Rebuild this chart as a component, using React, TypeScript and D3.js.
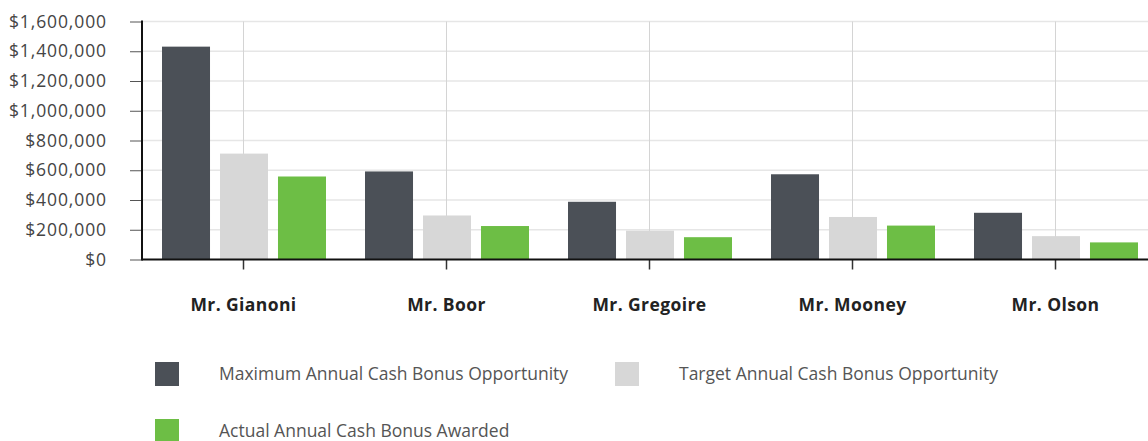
import { useEffect, useRef } from 'react';
import * as d3 from 'd3';

const executives = ['Mr. Gianoni', 'Mr. Boor', 'Mr. Gregoire', 'Mr. Mooney', 'Mr. Olson'];
const seriesNames = [
  'Maximum Annual Cash Bonus Opportunity',
  'Target Annual Cash Bonus Opportunity',
  'Actual Annual Cash Bonus Awarded',
];
const maxBonus = [1431000, 592000, 388000, 573000, 314000];
const targetBonus = [712000, 296000, 194000, 286000, 157000];
const actualBonus = [558000, 225000, 150000, 228000, 115000];
const seriesColors = ['#4b5057', '#d7d7d7', '#6dbe45'];
const yTicks = [0, 200000, 400000, 600000, 800000, 1000000, 1200000, 1400000, 1600000];

const W = 1148;
const H = 441;
const FONT = '"Open Sans", "Noto Sans", sans-serif';

const App = () => {
  const svgRef = useRef<SVGSVGElement>(null);

  useEffect(() => {
    const svg = d3.select(svgRef.current);
    svg.selectAll('*').remove();

    const values = [maxBonus, targetBonus, actualBonus];
    const left = 142;
    const step = 203;

    const x = d3.scaleBand<string>()
      .domain(executives)
      .range([left, left + step * executives.length]);
    const xs = d3.scaleBand<string>()
      .domain(seriesNames)
      .range([20, 184])
      .paddingInner(0.172);
    const y = d3.scaleLinear().domain([0, 1600000]).range([259.5, 21.5]);

    const g = svg.append('g');

    // horizontal grid
    g.selectAll('.hgrid')
      .data(yTicks.slice(1))
      .enter()
      .append('line')
      .attr('x1', left)
      .attr('x2', W)
      .attr('y1', d => y(d))
      .attr('y2', d => y(d))
      .attr('stroke', '#e6e6e6')
      .attr('stroke-width', 1.5);

    // vertical grid at category centres
    g.selectAll('.vgrid')
      .data(executives)
      .enter()
      .append('line')
      .attr('x1', d => x(d)! + step / 2)
      .attr('x2', d => x(d)! + step / 2)
      .attr('y1', y(1600000))
      .attr('y2', y(0))
      .attr('stroke', '#d4d4d4')
      .attr('stroke-width', 1);

    // bars
    const groups = g.selectAll('.grp')
      .data(executives)
      .enter()
      .append('g')
      .attr('transform', d => `translate(${x(d)}, 0)`);

    groups.selectAll('rect')
      .data((d, i) => seriesNames.map((s, k) => ({ s, k, v: values[k][i] })))
      .enter()
      .append('rect')
      .attr('x', d => xs(d.s)!)
      .attr('width', xs.bandwidth())
      .attr('y', d => y(d.v))
      .attr('height', d => y(0) - y(d.v))
      .attr('fill', d => seriesColors[d.k]);

    // y axis
    const yAxis = d3.axisLeft(y)
      .tickValues(yTicks)
      .tickSize(12)
      .tickPadding(23)
      .tickFormat(d => '$' + d3.format(',')(d as number));
    const ya = svg.append('g')
      .attr('transform', `translate(${left}, 0)`)
      .call(yAxis);
    ya.select('.domain').remove();
    ya.selectAll('.tick line').attr('stroke', '#555').attr('stroke-width', 1);
    ya.selectAll('.tick text')
      .attr('font-family', FONT)
      .attr('font-size', 17.5)
      .attr('letter-spacing', 0.9)
      .attr('fill', '#444');

    // x axis
    const xa = svg.append('g')
      .attr('transform', `translate(0, ${y(0)})`)
      .call(d3.axisBottom(x).tickSize(10).tickPadding(29));
    xa.select('.domain').remove();
    xa.selectAll('.tick line').attr('stroke', '#333').attr('stroke-width', 1.5);
    xa.selectAll('.tick text')
      .attr('font-family', FONT)
      .attr('font-size', 17.5)
      .attr('letter-spacing', 0.4)
      .attr('font-weight', 700)
      .attr('fill', '#222');

    // axis lines
    svg.append('line')
      .attr('x1', left).attr('x2', W)
      .attr('y1', y(0)).attr('y2', y(0))
      .attr('stroke', '#111').attr('stroke-width', 2);
    svg.append('line')
      .attr('x1', left).attr('x2', left)
      .attr('y1', y(1600000) - 1).attr('y2', y(0) + 1)
      .attr('stroke', '#111').attr('stroke-width', 2);

    // legend
    const legendPos = [
      { x: 155, y: 362 },
      { x: 615, y: 362 },
      { x: 155, y: 419 },
    ];
    const legend = svg.selectAll('.legend')
      .data(seriesNames)
      .enter()
      .append('g')
      .attr('transform', (d, i) => `translate(${legendPos[i].x}, ${legendPos[i].y})`);
    legend.append('rect')
      .attr('width', 24)
      .attr('height', 24)
      .attr('fill', (d, i) => seriesColors[i]);
    legend.append('text')
      .attr('x', 64)
      .attr('y', 13.5)
      .attr('dominant-baseline', 'middle')
      .attr('font-family', FONT)
      .attr('font-size', 17.5)
      .attr('fill', '#555')
      .text(d => d);
  }, []);

  return (
    <div style={{ position: 'absolute', left: 0, top: 0 }}>
      <svg ref={svgRef} width={W} height={H} style={{ display: 'block', background: '#fff' }} />
    </div>
  );
};

export default App;
